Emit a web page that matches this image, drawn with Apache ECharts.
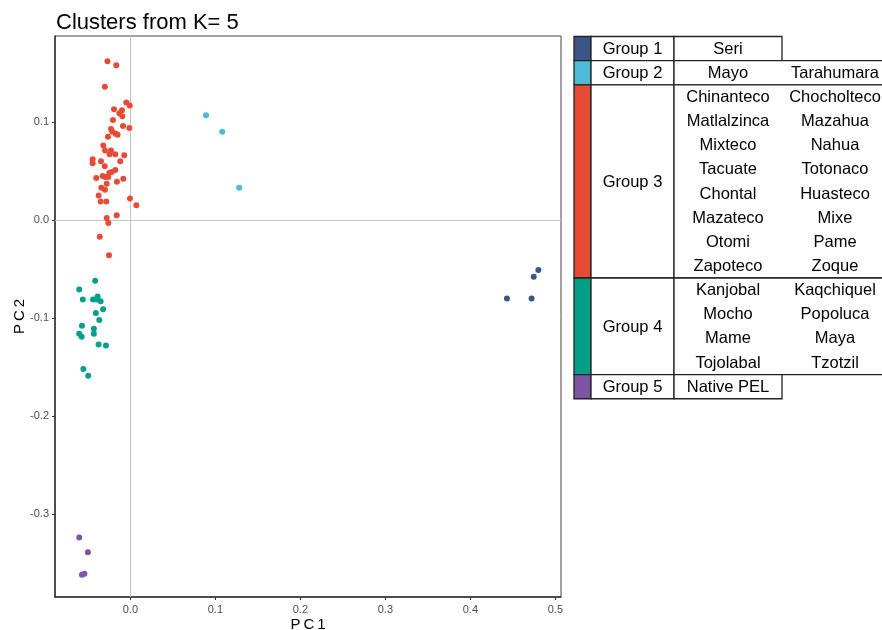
<!DOCTYPE html>
<html lang="en">
<head>
    <meta charset="UTF-8">
    <title>Clusters from K= 5</title>
    <script src="https://cdn.jsdelivr.net/npm/echarts@6/dist/echarts.min.js"></script>
    <style>
        html, body, #chart {
            width: 882px;
            height: 630px;
            padding: 0;
            margin: 0;
            background: #fff;
        }
    </style>
</head>
<body>
<div id="chart"></div>
<script>
    // PC1 / PC2 scores, one list per cluster
    var group1 = [[0.443, -0.080], [0.472, -0.080], [0.4745, -0.058], [0.480, -0.051]];
    var group2 = [[0.089, 0.107], [0.108, 0.090], [0.128, 0.033]];
    var group3 = [
        [-0.027, 0.162], [-0.0166, 0.158], [-0.030, 0.136], [-0.0048, 0.120], [-0.0008, 0.117],
        [-0.0193, 0.113], [-0.0099, 0.112], [-0.013, 0.109], [-0.0095, 0.106], [-0.0205, 0.102],
        [-0.0087, 0.096], [-0.0013, 0.094], [-0.0228, 0.093], [-0.0213, 0.090], [-0.0173, 0.088],
        [-0.015, 0.087], [-0.0264, 0.085], [-0.0319, 0.076], [-0.0299, 0.071], [-0.0228, 0.071],
        [-0.0244, 0.067], [-0.0178, 0.067], [-0.0072, 0.066], [-0.0444, 0.062], [-0.0444, 0.058],
        [-0.0346, 0.060], [-0.0119, 0.060], [-0.0302, 0.055], [-0.0178, 0.051], [-0.022, 0.049],
        [-0.0248, 0.048], [-0.0401, 0.043], [-0.0326, 0.045], [-0.0295, 0.044], [-0.026, 0.044],
        [-0.0084, 0.042], [-0.0158, 0.039], [-0.0279, 0.037], [-0.0342, 0.033], [-0.0299, 0.031],
        [-0.0373, 0.025], [-0.035, 0.019], [-0.0283, 0.019], [-0.0005, 0.022], [0.007, 0.015],
        [-0.0161, 0.005], [-0.0279, 0.002], [-0.026, -0.003], [-0.0361, -0.017], [-0.0252, -0.036]
    ];
    var group4 = [
        [-0.0414, -0.062], [-0.0602, -0.071], [-0.056, -0.081], [-0.0439, -0.081], [-0.0386, -0.078],
        [-0.0398, -0.081], [-0.035, -0.083], [-0.0321, -0.091], [-0.0406, -0.095], [-0.0366, -0.102],
        [-0.057, -0.108], [-0.0602, -0.116], [-0.0573, -0.119], [-0.043, -0.111], [-0.043, -0.116],
        [-0.0374, -0.127], [-0.0288, -0.128], [-0.0553, -0.152], [-0.0496, -0.159]
    ];
    var group5 = [[-0.0602, -0.324], [-0.050, -0.339], [-0.057, -0.362], [-0.0541, -0.361]];

    var xTicks = [0, 0.1, 0.2, 0.3, 0.4, 0.5];
    var yTicks = [-0.3, -0.2, -0.1, 0, 0.1];

    // legend table: group name and the populations in it (one or two columns)
    var groupNames = ["Group 1", "Group 2", "Group 3", "Group 4", "Group 5"];
    var groupMembers = [
        [["Seri"]],
        [["Mayo", "Tarahumara"]],
        [["Chinanteco", "Chocholteco"], ["Matlalzinca", "Mazahua"], ["Mixteco", "Nahua"],
         ["Tacuate", "Totonaco"], ["Chontal", "Huasteco"], ["Mazateco", "Mixe"],
         ["Otomi", "Pame"], ["Zapoteco", "Zoque"]],
        [["Kanjobal", "Kaqchiquel"], ["Mocho", "Popoluca"], ["Mame", "Maya"], ["Tojolabal", "Tzotzil"]],
        [["Native PEL"]]
    ];
    var groupData = [group1, group2, group3, group4, group5];
    var colors = ["#3C5488", "#4DBBD5", "#E64B35", "#00A087", "#7E55A5"];

    var FONT = "Liberation Sans, Arial, sans-serif";
    var chart = echarts.init(document.getElementById("chart"));

    // build the table on the right out of graphic rects + texts
    function buildTable() {
        var els = [];
        var rowTop = 36.5, lineH = 24.15;
        var cellText = function (x, y, s) {
            return {type: "text", x: x, y: y,
                style: {text: s, fill: "#000", font: "16.5px " + FONT, textAlign: "center", textVerticalAlign: "middle"}};
        };
        var cellRect = function (x, y, w, h, fill) {
            return {type: "rect", shape: {x: x, y: y, width: w, height: h},
                style: {fill: fill, stroke: "#222", lineWidth: 1.3}};
        };
        groupNames.forEach(function (name, i) {
            var rows = groupMembers[i];
            var h = rows.length * lineH;
            var twoCol = rows[0].length > 1;
            els.push(cellRect(574, rowTop, 17, h, colors[i]));
            els.push(cellRect(591, rowTop, 83, h, "#fff"));
            els.push(cellRect(674, rowTop, twoCol ? 300 : 108, h, "#fff"));
            els.push(cellText(632.5, rowTop + h / 2 + 1, name));
            rows.forEach(function (r, j) {
                var cy = rowTop + lineH * (j + 0.5) + 0.5;
                els.push(cellText(728, cy, r[0]));
                if (r[1]) els.push(cellText(835, cy, r[1]));
            });
            rowTop += h;
        });
        return els;
    }

    var series = groupData.map(function (d, i) {
        return {
            name: groupNames[i],
            type: "scatter",
            data: d,
            symbolSize: 6,
            z: 3,
            itemStyle: {color: colors[i], opacity: 1},
            silent: true
        };
    });
    series[0].markLine = {
        silent: true,
        z: 1,
        symbol: "none",
        label: {show: false},
        lineStyle: {color: "#C4C4C4", width: 1, type: "solid"},
        data: [{xAxis: 0}, {yAxis: 0}]
    };

    chart.setOption({
        animation: false,
        textStyle: {fontFamily: FONT},
        title: {
            text: "Clusters from K= 5",
            left: 56,
            top: 12,
            padding: 0,
            textStyle: {fontSize: 22, fontWeight: "normal", color: "#000", fontFamily: FONT}
        },
        grid: {
            left: 55, top: 36, right: 321, bottom: 33,
            outerBoundsMode: "none",
            containLabel: false,
            show: true, borderColor: "#444", borderWidth: 1
        },
        xAxis: {
            type: "value",
            min: -0.0887,
            max: 0.5066,
            name: "P\u2009C\u20091",
            nameLocation: "middle",
            nameMoveOverlap: false,
            nameGap: 20,
            nameTextStyle: {fontSize: 15, color: "#000"},
            splitLine: {show: false},
            axisLine: {onZero: false, lineStyle: {color: "#333", width: 1.5}},
            axisTick: {show: true, length: 3, customValues: xTicks, lineStyle: {color: "#333"}},
            axisLabel: {
                customValues: xTicks, color: "#4D4D4D", fontSize: 11, margin: 7,
                formatter: function (v) { return v.toFixed(1); }
            }
        },
        yAxis: {
            type: "value",
            min: -0.3847,
            max: 0.1878,
            name: "P\u2009C\u20092",
            nameLocation: "middle",
            nameMoveOverlap: false,
            nameGap: 28,
            nameTextStyle: {fontSize: 15, color: "#000"},
            splitLine: {show: false},
            axisLine: {onZero: false, lineStyle: {color: "#333", width: 1.5}},
            axisTick: {show: true, length: 3, customValues: yTicks, lineStyle: {color: "#333"}},
            axisLabel: {
                customValues: yTicks, color: "#4D4D4D", fontSize: 11, margin: 6,
                formatter: function (v) { return v.toFixed(1); }
            }
        },
        graphic: buildTable(),
        series: series
    });
</script>
</body>
</html>
